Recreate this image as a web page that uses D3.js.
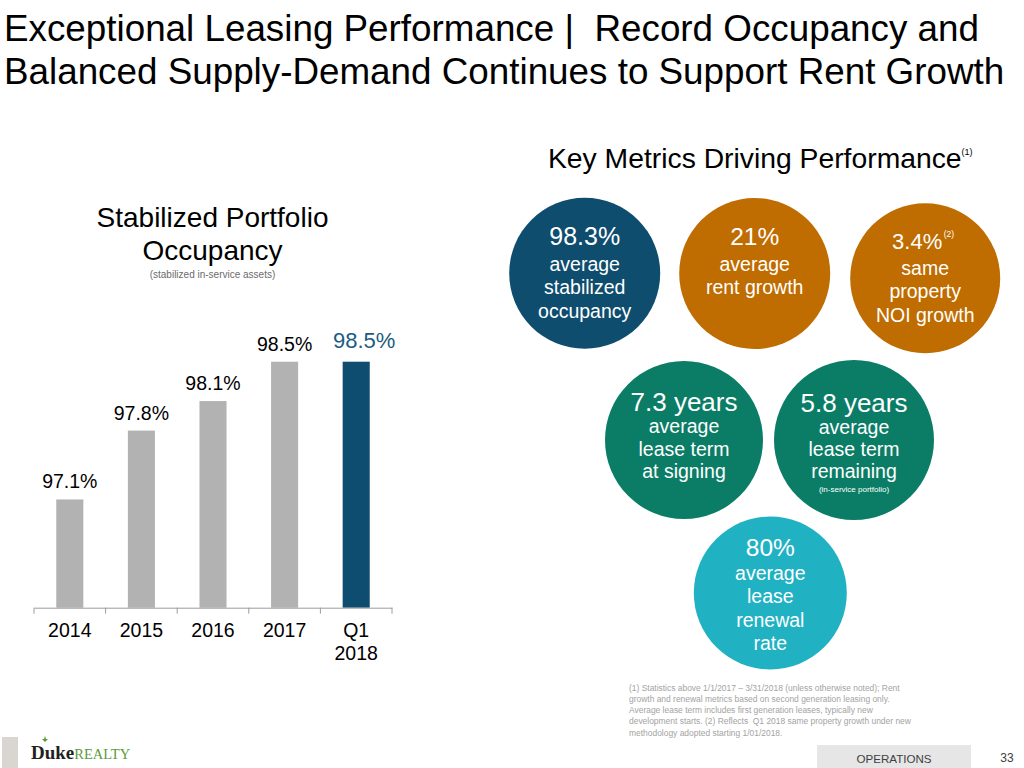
<!DOCTYPE html>
<html>
<head>
<meta charset="utf-8">
<script src="https://cdn.jsdelivr.net/npm/d3@7"></script>
<style>
  html, body { margin: 0; padding: 0; background: #fff; }
  svg { display: block; font-family: "Liberation Sans", Arial, sans-serif; }
  .pre { white-space: pre; }
</style>
</head>
<body>
<svg id="chart" width="1024" height="768"></svg>
<script>
// ---------- data ----------
const titleLines = [
  "Exceptional Leasing Performance |  Record Occupancy and",
  "Balanced Supply-Demand Continues to Support Rent Growth"
];
const chartTitleLines = ["Stabilized Portfolio", "Occupancy"];
const chartSubtitle = "(stabilized in-service assets)";
const categories = ["2014", "2015", "2016", "2017", "Q1 2018"];
const occupancy = [97.1, 97.8, 98.1, 98.5, 98.5];
const valueLabels = ["97.1%", "97.8%", "98.1%", "98.5%", "98.5%"];
const highlighted = [false, false, false, false, true];

const metricsHeader = "Key Metrics Driving Performance";
const metricValues = ["98.3%", "21%", "3.4%", "7.3 years", "5.8 years", "80%"];
const metricSup = ["", "", "(2)", "", "", ""];
const metricText = [
  ["average", "stabilized", "occupancy"],
  ["average", "rent growth"],
  ["same", "property", "NOI growth"],
  ["average", "lease term", "at signing"],
  ["average", "lease term", "remaining"],
  ["average", "lease", "renewal", "rate"]
];
const metricNote = ["", "", "", "", "(in-service portfolio)", ""];
const metricGroup = ["occupancy", "rent", "rent", "term", "term", "renewal"];

const footnoteLines = [
  "(1) Statistics above 1/1/2017 \u2013 3/31/2018 (unless otherwise noted); Rent",
  "growth and renewal metrics based on second generation leasing only.",
  "Average lease term includes first generation leases, typically new",
  "development starts. (2) Reflects  Q1 2018 same property growth under new",
  "methodology adopted starting 1/01/2018."
];
const sectionLabel = "OPERATIONS";
const pageNumber = "33";

// ---------- layout ----------
const svg = d3.select("#chart");
const FONT = '"Liberation Sans", Arial, sans-serif';

// Slide title
svg.append("g").selectAll("text").data(titleLines).join("text")
  .attr("class", "pre")
  .attr("x", 4).attr("y", (d, i) => 41 + i * 43)
  .attr("font-size", 36.8).attr("fill", "#000").text(d => d);

// Chart title
svg.append("g").selectAll("text").data(chartTitleLines).join("text")
  .attr("x", 212.5).attr("y", (d, i) => 226.5 + i * 33.5)
  .attr("text-anchor", "middle").attr("font-size", 28).attr("fill", "#000")
  .text(d => d);
svg.append("text").attr("x", 212.5).attr("y", 278)
  .attr("text-anchor", "middle").attr("font-size", 10).attr("fill", "#6b6b6b")
  .text(chartSubtitle);

// Bar chart
const axisY = 607.7;
const x = d3.scaleBand().domain(categories).range([34, 392])
  .paddingInner(0.622).paddingOuter(0.311);
const y = d3.scaleLinear().domain([96, 98.5]).range([axisY, 361.7]);

const barData = categories.map((c, i) => ({ c, v: occupancy[i], label: valueLabels[i], hi: highlighted[i] }));

svg.append("g").selectAll("rect").data(barData).join("rect")
  .attr("x", d => x(d.c)).attr("y", d => y(d.v))
  .attr("width", x.bandwidth()).attr("height", d => axisY - y(d.v))
  .attr("fill", d => d.hi ? "#0e4d70" : "#b2b2b2");

svg.append("g").selectAll("text").data(barData).join("text")
  .attr("x", d => x(d.c) + x.bandwidth() / 2 + (d.hi ? 8 : 0))
  .attr("y", d => y(d.v) - (d.hi ? 13.5 : 11))
  .attr("text-anchor", "middle")
  .attr("font-size", d => d.hi ? 22 : 19.5)
  .attr("fill", d => d.hi ? "#1b5c82" : "#000")
  .text(d => d.label);

// Axis
const axis = svg.append("g").attr("transform", `translate(0,${axisY})`)
  .call(d3.axisBottom(x).tickSize(0).tickSizeOuter(0).tickPadding(0));
axis.attr("font-family", FONT);
axis.select(".domain").attr("stroke", "#9c9c9c").attr("stroke-width", 1);
axis.selectAll(".tick text").each(function(d) {
  const t = d3.select(this);
  const parts = d.split(" ");
  t.text(null).attr("y", 0).attr("dy", null)
    .attr("font-size", 19.5).attr("font-family", FONT).attr("fill", "#000");
  parts.forEach((p, i) => t.append("tspan").attr("x", 0).attr("y", 29 + i * 23.5).text(p));
});
const boundaries = d3.range(categories.length + 1).map(i => x.range()[0] + i * x.step());
axis.append("g").selectAll("line").data(boundaries).join("line")
  .attr("x1", d => d).attr("x2", d => d).attr("y1", 0).attr("y2", 6)
  .attr("stroke", "#9c9c9c");

// Key metrics header
const hdr = svg.append("text").attr("x", 548).attr("y", 168)
  .attr("font-size", 28.3).attr("fill", "#000");
hdr.append("tspan").text(metricsHeader);
hdr.append("tspan").attr("font-size", 9).attr("dy", -13).text("(1)");

// Circles
const groupColor = { occupancy: "#0f4d6f", rent: "#bf6c00", term: "#0b7d66", renewal: "#20b2c3" };
const circleLayout = [
  { cx: 584.7, cy: 273.3, r: 75.5, base: [245, 270.5, 294, 318] },
  { cx: 754.7, cy: 273.5, r: 75.5, base: [245, 270.5, 294] },
  { cx: 925.2, cy: 278.3, r: 75, base: [249.3, 275, 298, 321.7] },
  { cx: 684, cy: 440, r: 79, base: [410.7, 433.3, 456, 478.3] },
  { cx: 854, cy: 440, r: 80, base: [412.2, 434, 455.5, 477.5, 492] },
  { cx: 770.3, cy: 593, r: 76.5, base: [555.7, 580, 603.3, 626.7, 650] }
];
const valueSize = [25, 24.5, 22, 26, 26, 24.5];

const metrics = metricValues.map((v, i) => ({
  value: v, sup: metricSup[i], lines: metricText[i], note: metricNote[i],
  color: groupColor[metricGroup[i]], L: circleLayout[i], vs: valueSize[i]
}));

const mg = svg.append("g").selectAll("g").data(metrics).join("g");
mg.append("circle").attr("cx", d => d.L.cx).attr("cy", d => d.L.cy).attr("r", d => d.L.r)
  .attr("fill", d => d.color);
mg.each(function(d) {
  const g = d3.select(this);
  const vt = g.append("text").attr("x", d.L.cx + (d.sup ? -8 : 0)).attr("y", d.L.base[0])
    .attr("text-anchor", "middle").attr("font-size", d.vs).attr("fill", "#fff");
  vt.append("tspan").text(d.value);
  if (d.sup) {
    g.append("text").attr("x", d.L.cx + 18.5).attr("y", d.L.base[0] - 12)
      .attr("font-size", 8.5).attr("fill", "#fff").text(d.sup);
  }
  d.lines.forEach((ln, j) => {
    g.append("text").attr("x", d.L.cx).attr("y", d.L.base[j + 1])
      .attr("text-anchor", "middle").attr("font-size", 19.5).attr("fill", "#fff").text(ln);
  });
  if (d.note) {
    g.append("text").attr("x", d.L.cx).attr("y", d.L.base[d.lines.length + 1])
      .attr("text-anchor", "middle").attr("font-size", 8).attr("fill", "#fff").text(d.note);
  }
});

// Footnote
svg.append("g").selectAll("text").data(footnoteLines).join("text")
  .attr("class", "pre")
  .attr("x", 629).attr("y", (d, i) => 690.5 + i * 11.3)
  .attr("font-size", 8.45).attr("fill", "#a3a3a3").text(d => d);

// Footer
svg.append("rect").attr("x", 817).attr("y", 745).attr("width", 154).attr("height", 23).attr("fill", "#e6e6e6");
svg.append("text").attr("x", 894).attr("y", 763).attr("text-anchor", "middle")
  .attr("font-size", 11.6).attr("fill", "#404040").text(sectionLabel);
svg.append("text").attr("x", 1007).attr("y", 762).attr("text-anchor", "middle")
  .attr("font-size", 12).attr("fill", "#404040").text(pageNumber);

// Logo
svg.append("rect").attr("x", 2).attr("y", 737).attr("width", 16).attr("height", 31).attr("fill", "#d9d6d1");
const logo = svg.append("text").attr("x", 31).attr("y", 759);
logo.append("tspan").attr("font-family", '"Liberation Serif", serif').attr("font-weight", "bold")
  .attr("font-size", 19).attr("fill", "#231f20").text("Duke");
logo.append("tspan").attr("font-family", '"Liberation Serif", serif')
  .attr("font-size", 14.5).attr("fill", "#5b9a3a").text("REALTY");
// leaf mark above the "u"
svg.append("path").attr("d", "M45,742 l-3,-3 l2,0 l1,-3 l1,3 l2,0 z").attr("fill", "#5b9a3a");
</script>
</body>
</html>
